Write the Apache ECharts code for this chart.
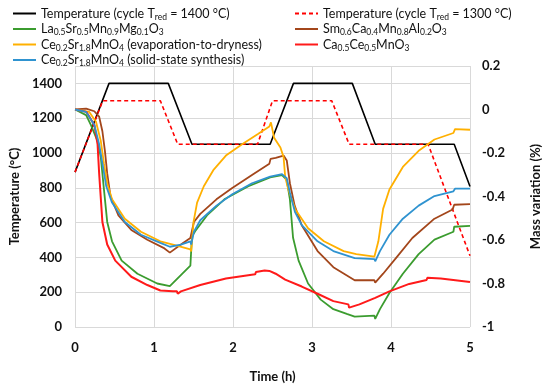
<!DOCTYPE html>
<html><head><meta charset="utf-8">
<script src="https://cdn.jsdelivr.net/npm/echarts@6/dist/echarts.min.js"></script>
<style>html,body{margin:0;padding:0;background:#fff}#c{width:550px;height:388px}</style>
</head><body><div id="c"></div>
<script>
// Time axis ticks (h)
const xTicks = [0, 1, 2, 3, 4, 5];
// Left axis: temperature (°C); right axis: mass variation (%)
const tempTicks = [0, 200, 400, 600, 800, 1000, 1200, 1400];
const massTicks = [-1, -0.8, -0.6, -0.4, -0.2, 0, 0.2];

// Temperature programmes [time h, °C]
const temp1400 = [[0,890],[0.43,1400],[1.18,1400],[1.48,1050],[2.47,1050],[2.765,1400],[3.51,1400],[3.80,1050],[4.80,1050],[5.0,808]];
const temp1300 = [[0,890],[0.35,1300],[1.08,1300],[1.30,1050],[2.31,1050],[2.50,1300],[3.25,1300],[3.47,1050],[4.47,1050],[5.0,409]];

// Mass variation curves [time h, %]
const laSrMnMg = [[0,0],[0.14,-0.026],[0.20,-0.071],[0.285,-0.145],[0.326,-0.22],[0.366,-0.368],[0.407,-0.517],[0.468,-0.606],[0.59,-0.695],[0.79,-0.755],[1.04,-0.80],[1.20,-0.812],[1.46,-0.718],[1.475,-0.72],[1.48,-0.584],[1.52,-0.56],[1.67,-0.487],[1.89,-0.413],[2.195,-0.353],[2.47,-0.312],[2.48,-0.305],[2.62,-0.302],[2.68,-0.323],[2.72,-0.413],[2.76,-0.59],[2.83,-0.695],[2.95,-0.80],[3.11,-0.874],[3.27,-0.918],[3.44,-0.94],[3.54,-0.952],[3.79,-0.948],[3.80,-0.963],[3.86,-0.918],[3.98,-0.844],[4.15,-0.755],[4.35,-0.665],[4.55,-0.598],[4.79,-0.562],[4.80,-0.539],[5.0,-0.535]];
const smCaMnAl = [[0,0],[0.14,0.004],[0.244,-0.008],[0.305,-0.033],[0.346,-0.10],[0.378,-0.19],[0.407,-0.294],[0.448,-0.398],[0.549,-0.487],[0.712,-0.554],[0.915,-0.599],[1.12,-0.636],[1.20,-0.658],[1.34,-0.621],[1.46,-0.591],[1.505,-0.517],[1.585,-0.48],[1.79,-0.413],[1.99,-0.361],[2.24,-0.301],[2.46,-0.249],[2.475,-0.227],[2.54,-0.222],[2.64,-0.212],[2.68,-0.234],[2.72,-0.339],[2.78,-0.442],[2.87,-0.532],[3.07,-0.651],[3.27,-0.725],[3.54,-0.785],[3.79,-0.785],[3.80,-0.796],[3.90,-0.755],[4.07,-0.68],[4.27,-0.591],[4.55,-0.502],[4.78,-0.46],[4.80,-0.438],[5.0,-0.435]];
const ceSrEvap = [[0,0],[0.18,-0.011],[0.265,-0.056],[0.326,-0.145],[0.366,-0.249],[0.407,-0.339],[0.468,-0.413],[0.63,-0.502],[0.834,-0.562],[1.08,-0.606],[1.24,-0.621],[1.46,-0.643],[1.47,-0.653],[1.50,-0.517],[1.545,-0.428],[1.63,-0.353],[1.75,-0.279],[1.91,-0.212],[2.115,-0.16],[2.32,-0.112],[2.46,-0.078],[2.48,-0.059],[2.52,-0.13],[2.60,-0.175],[2.64,-0.219],[2.66,-0.309],[2.70,-0.368],[2.785,-0.457],[2.95,-0.546],[3.15,-0.606],[3.40,-0.651],[3.56,-0.665],[3.79,-0.676],[3.80,-0.683],[3.84,-0.606],[3.90,-0.457],[3.98,-0.368],[4.15,-0.264],[4.35,-0.19],[4.55,-0.138],[4.79,-0.108],[4.81,-0.09],[5.0,-0.093]];
const ceSrSolid = [[0,0],[0.14,-0.011],[0.244,-0.071],[0.305,-0.16],[0.354,-0.264],[0.395,-0.353],[0.468,-0.428],[0.63,-0.517],[0.834,-0.576],[1.08,-0.613],[1.20,-0.631],[1.34,-0.621],[1.46,-0.606],[1.47,-0.621],[1.505,-0.562],[1.585,-0.509],[1.79,-0.442],[1.99,-0.39],[2.24,-0.339],[2.47,-0.309],[2.48,-0.301],[2.62,-0.297],[2.68,-0.316],[2.72,-0.383],[2.785,-0.472],[2.87,-0.532],[3.07,-0.606],[3.27,-0.651],[3.54,-0.683],[3.79,-0.688],[3.80,-0.698],[3.86,-0.651],[3.98,-0.576],[4.15,-0.502],[4.35,-0.442],[4.55,-0.398],[4.79,-0.376],[4.81,-0.364],[5.0,-0.364]];
const caCeMn = [[0,0],[0.143,-0.011],[0.244,-0.071],[0.285,-0.16],[0.305,-0.294],[0.346,-0.517],[0.407,-0.621],[0.509,-0.695],[0.712,-0.769],[0.915,-0.807],[1.08,-0.832],[1.24,-0.836],[1.29,-0.836],[1.30,-0.847],[1.34,-0.836],[1.585,-0.807],[1.91,-0.777],[2.28,-0.758],[2.29,-0.747],[2.40,-0.74],[2.46,-0.742],[2.54,-0.755],[2.66,-0.782],[2.87,-0.814],[3.07,-0.847],[3.27,-0.881],[3.46,-0.896],[3.47,-0.911],[3.60,-0.896],[3.80,-0.866],[3.98,-0.836],[4.23,-0.802],[4.45,-0.784],[4.46,-0.774],[4.63,-0.777],[5.0,-0.793]];

const FONT = 'Lato';
const richLabels = {
  'T1400': '{a|Temperature (cycle T}{s|red}{a| = 1400 °C)}',
  'T1300': '{a|Temperature (cycle T}{s|red}{a| = 1300 °C)}',
  'La': '{a|La}{s|0.5}{a|Sr}{s|0.5}{a|Mn}{s|0.9}{a|Mg}{s|0.1}{a|O}{s|3}',
  'Sm': '{a|Sm}{s|0.6}{a|Ca}{s|0.4}{a|Mn}{s|0.8}{a|Al}{s|0.2}{a|O}{s|3}',
  'CeEvap': '{a|Ce}{s|0.2}{a|Sr}{s|1.8}{a|MnO}{s|4}{a| (evaporation-to-dryness)}',
  'Ca': '{a|Ca}{s|0.5}{a|Ce}{s|0.5}{a|MnO}{s|3}',
  'CeSolid': '{a|Ce}{s|0.2}{a|Sr}{s|1.8}{a|MnO}{s|4}{a| (solid-state synthesis)}'
};
const rich = {
  a: {fontFamily: FONT, fontSize: 12.5, lineHeight: 16, color: '#111'},
  s: {fontFamily: FONT, fontSize: 8.5, lineHeight: 10, verticalAlign: 'bottom', color: '#111'}
};
function mk(name, data, color, width, yIdx, dashed, z) {
  return {name, type: 'line', data, yAxisIndex: yIdx, symbol: 'none', showSymbol: false,
    lineStyle: {color, width, type: dashed ? [4, 3] : 'solid'}, itemStyle: {color},
    z: z, animation: false};
}
const legendBase = {orient: 'vertical', top: 2, itemWidth: 23, itemHeight: 10, itemGap: 1,
  formatter: n => richLabels[n], textStyle: {rich}, itemStyle: {opacity: 0}};

const axisLabelStyle = {fontFamily: FONT, fontSize: 13, fontWeight: 'bold', color: '#111'};
const axisNameStyle = {fontFamily: FONT, fontSize: 13, fontWeight: 'bold', color: '#111'};

const chart = echarts.init(document.getElementById('c'), null, {renderer: 'canvas'});
chart.setOption({
  animation: false,
  textStyle: {fontFamily: FONT},
  grid: {left: 68, right: 72, top: 66, bottom: 53},
  legend: [
    Object.assign({}, legendBase, {left: 7, data: ['T1400', 'La', 'CeEvap', 'CeSolid']}),
    Object.assign({}, legendBase, {left: 289, data: ['T1300', 'Sm', 'Ca']})
  ],
  xAxis: {type: 'value', min: xTicks[0], max: xTicks[xTicks.length - 1], interval: 1,
    name: 'Time (h)', nameLocation: 'middle', nameGap: 43, nameTextStyle: axisNameStyle,
    axisLine: {show: false}, axisTick: {show: false},
    axisLabel: Object.assign({margin: 14}, axisLabelStyle),
    splitLine: {lineStyle: {color: '#d9d9d9', width: 1}}},
  yAxis: [
    {type: 'value', min: tempTicks[0], max: 1500, interval: 200, position: 'left',
      name: 'Temperature (°C)', nameLocation: 'middle', nameGap: 44, nameTextStyle: axisNameStyle,
      axisLine: {show: false}, axisTick: {show: false},
      axisLabel: Object.assign({margin: 13, showMaxLabel: false, formatter: v => String(v)}, axisLabelStyle),
      splitLine: {lineStyle: {color: '#d9d9d9', width: 1}}},
    {type: 'value', min: massTicks[0], max: massTicks[massTicks.length - 1], interval: 0.2, position: 'right',
      name: 'Mass variation (%)', nameLocation: 'middle', nameGap: 59, nameTextStyle: axisNameStyle,
      axisLine: {show: false}, axisTick: {show: false},
      axisLabel: Object.assign({margin: 12, formatter: v => String(Math.round(v * 10) / 10)}, axisLabelStyle),
      splitLine: {show: false}}
  ],
  series: [
    mk('T1400', temp1400, '#000000', 1.6, 0, false, 2),
    mk('T1300', temp1300, '#ff0000', 1.6, 0, true, 3),
    mk('La', laSrMnMg, '#3b9c2f', 1.8, 1, false, 4),
    mk('Sm', smCaMnAl, '#a3461b', 1.8, 1, false, 4),
    mk('CeEvap', ceSrEvap, '#ffb000', 1.8, 1, false, 4),
    mk('Ca', caCeMn, '#ff1a1a', 2, 1, false, 4),
    mk('CeSolid', ceSrSolid, '#2f93d0', 1.8, 1, false, 4)
  ]
});
</script></body></html>
